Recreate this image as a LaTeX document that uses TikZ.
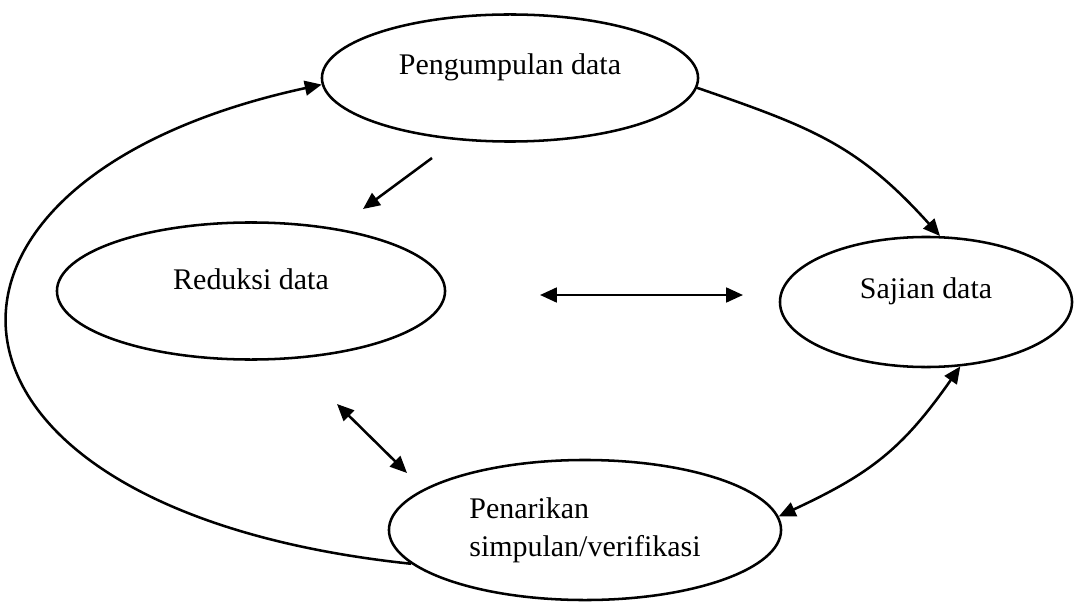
\documentclass[tikz,border=0pt]{standalone}
\usepackage{fontspec}
\setmainfont{Liberation Serif}
\usetikzlibrary{arrows.meta,shapes.geometric}

\begin{document}
\begin{tikzpicture}[x=0.025cm,y=-0.025cm,
	bubble/.style={ellipse,draw=black,line width=1.8pt,inner sep=0pt,
	  font=\fontsize{21.3}{27}\selectfont},
	lifted/.style={text height=14.5pt,text depth=20pt},
	link/.style={line width=1.8pt,-{Triangle[length=12pt,width=10.5pt]}},
	twoway/.style={line width=1.8pt,
	  {Triangle[length=12pt,width=10.5pt]}-{Triangle[length=12pt,width=10.5pt]}}]
	   \useasboundingbox (0,0) rectangle (1075,603);
	   % the four stages
	   \node (peng) at (510,78)
	     [bubble,lifted,minimum width=9.4cm,minimum height=3.175cm] {Pengumpulan data};
	   \node (red) at (251,291)
	     [bubble,lifted,text depth=16pt,minimum width=9.7cm,minimum height=3.425cm] {Reduksi data};
	   \node (saj) at (926,302)
	     [bubble,lifted,minimum width=7.3cm,minimum height=3.25cm] {Sajian data};
	   \node (pen) at (585,530)
	     [bubble,align=left,minimum width=9.8cm,minimum height=3.5cm]
	     {Penarikan\\simpulan/verifikasi};
	   % free ends of the loose arrows
	   \coordinate (r1) at (432,158);
	   \coordinate (r2) at (363,209);
	   \coordinate (m1) at (540,295);
	   \coordinate (m2) at (743,295);
	   \coordinate (v1) at (337,404);
	   \coordinate (v2) at (407,473);
	   \draw [link] (peng.-3) to[out=-19,in=132,looseness=1.1] (saj.78);
	   \draw [link] (pen.191) .. controls (-100,510) and (-120,180) .. (peng.182);
	   \draw [link] (r1) -- (r2);
	   \draw [twoway] (saj.-62) to[out=-125,in=25,looseness=1.1] (pen.4);
	   \draw [twoway] (m1) -- (m2);
	   \draw [twoway] (v1) -- (v2);
	  \end{tikzpicture}
\end{document}
